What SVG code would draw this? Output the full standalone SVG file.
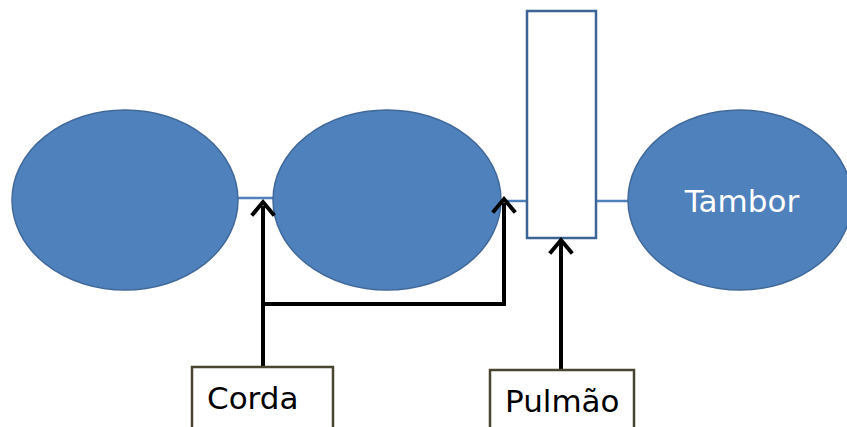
<svg xmlns="http://www.w3.org/2000/svg" width="847" height="427" viewBox="0 0 847 427">
<style>
.ell{fill:#4f81bd;stroke:#41699a;stroke-width:1.5}
.link{stroke:#4f81bd;stroke-width:2.5;fill:none}
.arr{stroke:#000;stroke-width:4;fill:none}
.head{stroke:#000;stroke-width:4;fill:none;stroke-linecap:square}
.box{fill:#fff;stroke:#4a4530;stroke-width:2.5}
.t{font-family:"DejaVu Sans",Verdana,sans-serif;font-size:31px;fill:#000}
</style>
<rect width="847" height="427" fill="#fff"/>
<g id="connectors">
<line class="link" x1="230" y1="198" x2="285" y2="198"/>
<line class="link" x1="495" y1="201" x2="535" y2="201"/>
<line class="link" x1="590" y1="201" x2="640" y2="201"/>
</g>
<g id="ellipse1"><ellipse class="ell" cx="125" cy="200" rx="113" ry="90"/></g>
<g id="ellipse2"><ellipse class="ell" cx="387" cy="200" rx="114" ry="90"/></g>
<g id="tambor"><ellipse class="ell" cx="740" cy="200" rx="112" ry="90"/>
<text class="t" x="742" y="212" text-anchor="middle" fill="#fff" style="fill:#fff">Tambor</text></g>
<g id="pulmao-rect"><rect x="527" y="11" width="69" height="227" fill="#fff" stroke="#3c6496" stroke-width="2.5"/></g>
<g id="arrows">
<polyline class="arr" points="263,367 263,206"/>
<polyline class="head" points="253,214 263,202 273,214"/>
<polyline class="arr" points="263,304 504,304 504,203"/>
<polyline class="head" points="494,211 504,199 514,211"/>
<polyline class="arr" points="561,370 561,243"/>
<polyline class="head" points="551,252 561,240 571,252"/>
</g>
<g id="corda"><rect class="box" x="192" y="367" width="141" height="70"/>
<text class="t" x="207" y="409">Corda</text></g>
<g id="pulmao"><rect class="box" x="490" y="370" width="144" height="70"/>
<text class="t" x="505" y="412">Pulmão</text></g>
</svg>
